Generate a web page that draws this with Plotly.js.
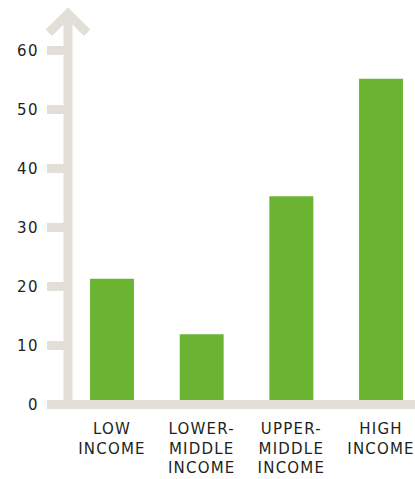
<!DOCTYPE html>
<html>
<head>
<meta charset="utf-8">
<script src="https://cdn.plot.ly/plotly-3.0.1.min.js"></script>
<style>
html,body{margin:0;padding:0;background:#fff;}
#chart{width:415px;height:479px;}
.xtick text{letter-spacing:1.2px;}
.ytick text{letter-spacing:1.4px;}
</style>
</head>
<body>
<div id="chart"></div>
<script>
const categories = ["LOW<br>INCOME", "LOWER-<br>MIDDLE<br>INCOME", "UPPER-<br>MIDDLE<br>INCOME", "HIGH<br>INCOME"];
const values = [21.3, 11.9, 35.3, 55.2];
const yTickVals = [0, 10, 20, 30, 40, 50, 60];
const yTickText = ["0", "10", "20", "30", "40", "50", "60"];

const axisColor = "#e2dfd9";
const barColor = "#6ab432";
const lw = 9;

const axisX = 0.057;
const yBottom = -0.76;
const yTip = 66.2;
const yWing = 63.0;
const wingDX = 0.052;

const shapes = [];
shapes.push({type:"line", xref:"paper", yref:"y", x0:0, x1:1, y0:0, y1:0,
  line:{color:axisColor, width:lw}, layer:"above"});
shapes.push({type:"line", xref:"paper", yref:"y", x0:axisX, x1:axisX, y0:yBottom, y1:yTip,
  line:{color:axisColor, width:lw}, layer:"above"});
yTickVals.slice(1).forEach(v => {
  shapes.push({type:"line", xref:"paper", yref:"y", x0:0, x1:axisX, y0:v, y1:v,
    line:{color:axisColor, width:lw}, layer:"above"});
});
shapes.push({type:"path", xref:"paper", yref:"y",
  path:`M ${axisX-wingDX},${yWing} L ${axisX},${yTip} L ${axisX+wingDX},${yWing}`,
  line:{color:axisColor, width:lw}, layer:"above"});

const trace = {
  type:"bar",
  x:[0,1,2,3],
  y:values,
  width:0.49,
  marker:{color:barColor},
  hoverinfo:"none"
};

const layout = {
  width:415, height:479,
  margin:{l:47, r:0, t:0, b:70, pad:0},
  paper_bgcolor:"#fff", plot_bgcolor:"#fff",
  showlegend:false,
  font:{family:"DejaVu Sans, sans-serif", color:"#231f20", size:15},
  xaxis:{
    range:[-0.725, 3.379],
    tickvals:[0,1,2,3],
    ticktext:categories,
    showgrid:false, zeroline:false, showline:false, ticks:"",
    ticklabelstandoff:9,
    tickfont:{size:15, color:"#231f20"},
    fixedrange:true
  },
  yaxis:{
    range:[-0.763, 68.56],
    tickvals:yTickVals,
    ticktext:yTickText,
    showgrid:false, zeroline:false, showline:false, ticks:"",
    ticklabelstandoff:7,
    tickfont:{size:15, color:"#231f20"},
    fixedrange:true
  },
  shapes:shapes
};

Plotly.newPlot("chart", [trace], layout, {displayModeBar:false, staticPlot:true});
</script>
</body>
</html>
